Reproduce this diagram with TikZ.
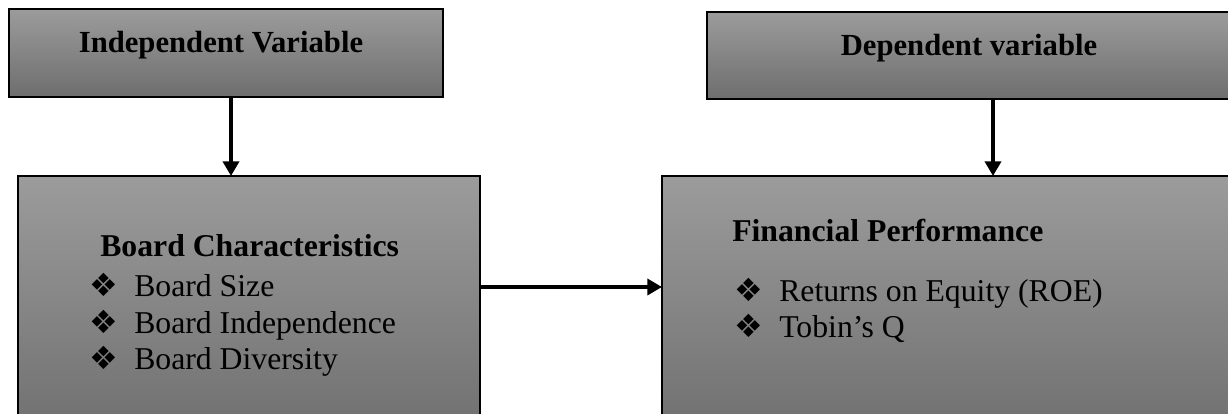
\documentclass[tikz,border=0pt]{standalone}
\usepackage{fontspec}
\setmainfont{Liberation Serif}
\newfontfamily\bulletfont{DejaVu Sans}
\usetikzlibrary{arrows.meta}

\newcommand{\bul}{\makebox[33.75pt][l]{\bulletfont\fontsize{24}{24}\selectfont ❖}}

\tikzset{
  varbox/.style={draw=black, line width=1pt, top color=gray!78, bottom color=gray!86!black, anchor=north west, inner sep=0pt, outer sep=0pt},
  hdr/.style={font=\fontsize{23.8}{27}\selectfont\bfseries, anchor=base, inner sep=0pt},
  item/.style={font=\fontsize{23.8}{27}\selectfont, anchor=base west, inner sep=0pt},
  link/.style={line width=3pt, -{Triangle[length=11pt,width=12pt]}}
}

\begin{document}
\begin{tikzpicture}[x=0.75pt, y=-0.75pt]
            \useasboundingbox (0,0) rectangle (1228,414);
            \node[varbox, minimum width=434*0.75pt, minimum height=88*0.75pt] (ivar) at (9,9) {};
            \node[varbox, minimum width=572*0.75pt, minimum height=87*0.75pt] (dvar) at (707,12) {}; % runs off the right edge
            \node[varbox, minimum width=462*0.75pt, minimum height=270*0.75pt] (board) at (18,176) {};
            \node[varbox, minimum width=600*0.75pt, minimum height=270*0.75pt] (perf) at (662,176) {};

            \node[hdr, font=\fontsize{23}{27}\selectfont\bfseries] (ivartxt) at (221,52) {Independent Variable};
            \node[hdr, font=\fontsize{23}{27}\selectfont\bfseries] (dvartxt) at (969,55) {Dependent variable};
            \node[hdr, anchor=base west] (boardtxt) at (100,256) {Board Characteristics};
            \node[hdr, anchor=base west] (perftxt) at (732,241) {Financial Performance};

            \foreach \y/\t [count=\i] in {296/Board Size, 333/Board Independence, 369/Board Diversity}
              \node[item] (board\i) at (89,\y) {\bul\t};
            \node[item] (perf1) at (734,301) {\bul Returns on Equity (ROE)};
            \node[item] (perf2) at (734,337) {\bul Tobin’s Q};

            \coordinate (down) at (231,0);
            \coordinate (across) at (0,287);
            \draw[link] (ivar.south -| down) -- (board.north -| down);
            \draw[link] (dvar.south) -- (dvar.south |- perf.north);
            \draw[link] (board.east |- across) -- (perf.west |- across);
      \end{tikzpicture}
\end{document}
